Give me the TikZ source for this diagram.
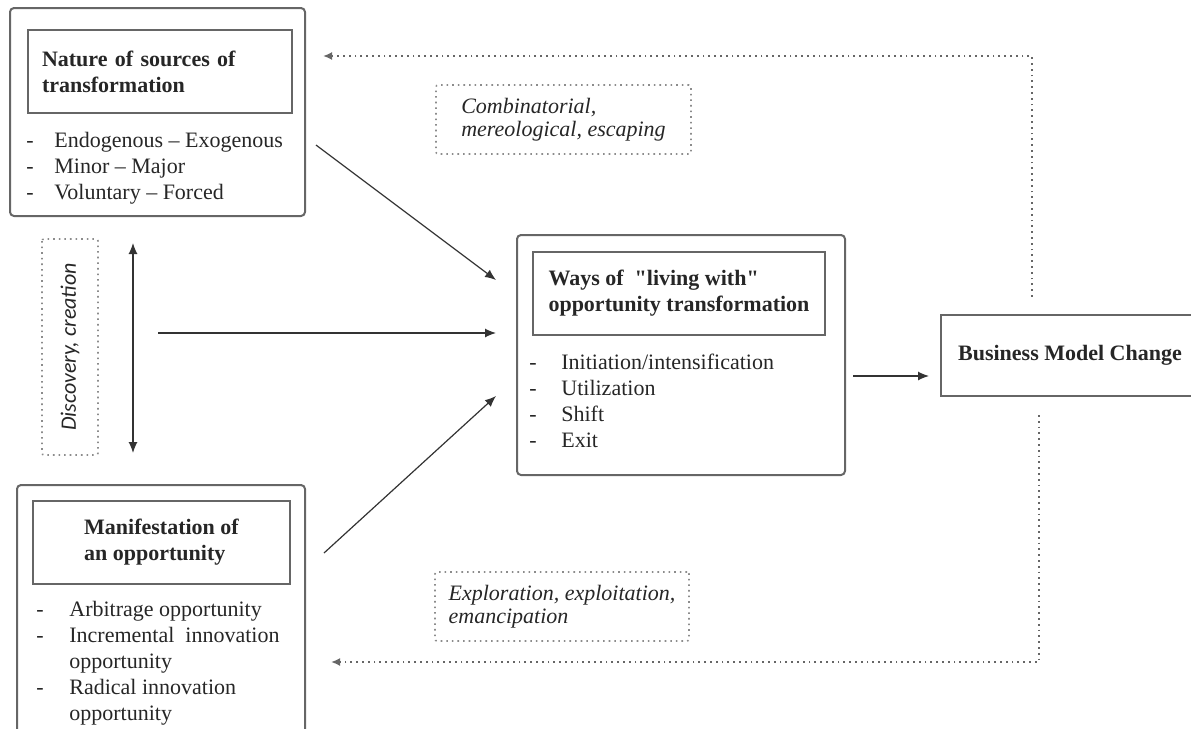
\documentclass[tikz,border=0pt]{standalone}
\usepackage{fontspec}
\setmainfont{Liberation Serif}[Ligatures=TeXOff]
\newfontfamily\calib{Carlito}
\usetikzlibrary{arrows.meta,positioning,calc}

\begin{document}
\begin{tikzpicture}[x=0.5pt,y=-0.5pt,every node/.style={font=\fontsize{11}{13}\selectfont,text=black!85},
 ob/.style={draw=black!60,line width=1pt,rounded corners=2pt,inner sep=0pt},
 tb/.style={draw=black!60,line width=1pt,inner sep=0pt,minimum height=41.5pt,font=\fontsize{11}{13}\selectfont\bfseries},
 li/.style={align=left,inner sep=0pt},
 lb/.style={draw=black!45,dotted,line width=0.8pt,rounded corners=1pt,align=left,inner sep=0pt,font=\fontsize{11}{11.5}\selectfont\itshape},
 ar/.style={-{Latex[length=5.5pt,width=4.5pt]},line width=0.6pt,draw=black!80},
 dar/.style={{Latex[length=5.5pt,width=4.5pt]}-{Latex[length=5.5pt,width=4.5pt]},line width=0.6pt,draw=black!80},
 fb/.style={-{Latex[length=4.5pt,width=4pt]},dotted,line width=0.9pt,draw=black!60}]
\clip (0,0) rectangle (1191,729);
\node[ob,minimum width=147.5pt,minimum height=104pt] (src) at (157.5,112) {};
\node[tb,below=11pt of src.north,xshift=1.25pt,minimum width=132pt,text width=118pt,align=left] (srcT) {Nature of sources of\\transformation};
\node[li,below=9pt of srcT.south west,anchor=north west,xshift=-0.5pt] (srcL) {\makebox[14pt][l]{-}Endogenous – Exogenous\\
 \makebox[14pt][l]{-}Minor – Major\\
 \makebox[14pt][l]{-}Voluntary – Forced};
\node[lb,rotate=90,minimum width=108pt,minimum height=28pt,font=\calib\fontsize{11}{13}\selectfont\itshape] (disc) at (70,347) {Discovery, creation};
\coordinate (dT) at (133,243);
\coordinate (dB) at (133,453);
\coordinate (hS) at (158,333);
\node[ob,minimum width=164pt,minimum height=120pt] (mid) at (681,355) {};
\node[tb,below=8.5pt of mid.north,xshift=-1pt,minimum width=146pt,align=left] (midT) {Ways of~ "living with"\\opportunity transformation};
\node[li,below=9pt of midT.south west,anchor=north west,xshift=-1.5pt] (midL) {\makebox[16pt][l]{-}Initiation/intensification\\
 \makebox[16pt][l]{-}Utilization\\
 \makebox[16pt][l]{-}Shift\\
 \makebox[16pt][l]{-}Exit};
\node[ob,minimum width=144pt,minimum height=130pt] (opp) at (161,615) {};
\node[tb,below=8pt of opp.north,xshift=0.25pt,minimum width=128.5pt,align=left] (oppT) {Manifestation of\\an opportunity};
\node[li,below=8pt of oppT.south west,anchor=north west,xshift=2pt] (oppL) {\makebox[16.5pt][l]{-}Arbitrage opportunity\\
 \makebox[16.5pt][l]{-}Incremental \ innovation\\
 \hspace*{16.5pt}opportunity\\
 \makebox[16.5pt][l]{-}Radical innovation\\
 \hspace*{16.5pt}opportunity};
\node[draw=black!60,line width=1pt,minimum width=129pt,minimum height=40.5pt,font=\fontsize{11}{13}\selectfont\bfseries] (bmc) at (1070,355) {Business Model Change};
\node[lb,minimum width=127.5pt,minimum height=34.5pt] (comb) at (563.5,119.5) {Combinatorial,\\mereological, escaping};
\node[lb,minimum width=127pt,minimum height=34.5pt] (expl) at (562,606.5) {Exploration, exploitation,\\emancipation};
\draw[dar] (dT) -- (dB);
\draw[ar] ([xshift=5pt,yshift=-16.5pt]src.east) -- ([xshift=-10pt,yshift=37.5pt]mid.west);
\draw[ar] (hS) -- ([xshift=-10pt,yshift=11pt]mid.west);
\draw[ar] ([xshift=9pt,yshift=31pt]opp.east) -- ([xshift=-10pt,yshift=-20.5pt]mid.west);
\draw[ar] ([xshift=3.5pt,yshift=-10.5pt]mid.east) -- ([xshift=-5.5pt,yshift=-10.5pt]bmc.west);
\draw[fb] ([xshift=-19pt,yshift=8.4pt]bmc.north) |- ([xshift=8.5pt,yshift=-24.5pt]src.north east);
\draw[fb] ([xshift=-15.5pt,yshift=-9.25pt]bmc.south) |- ([xshift=12.5pt,yshift=-89pt]opp.north east);
\end{tikzpicture}
\end{document}
